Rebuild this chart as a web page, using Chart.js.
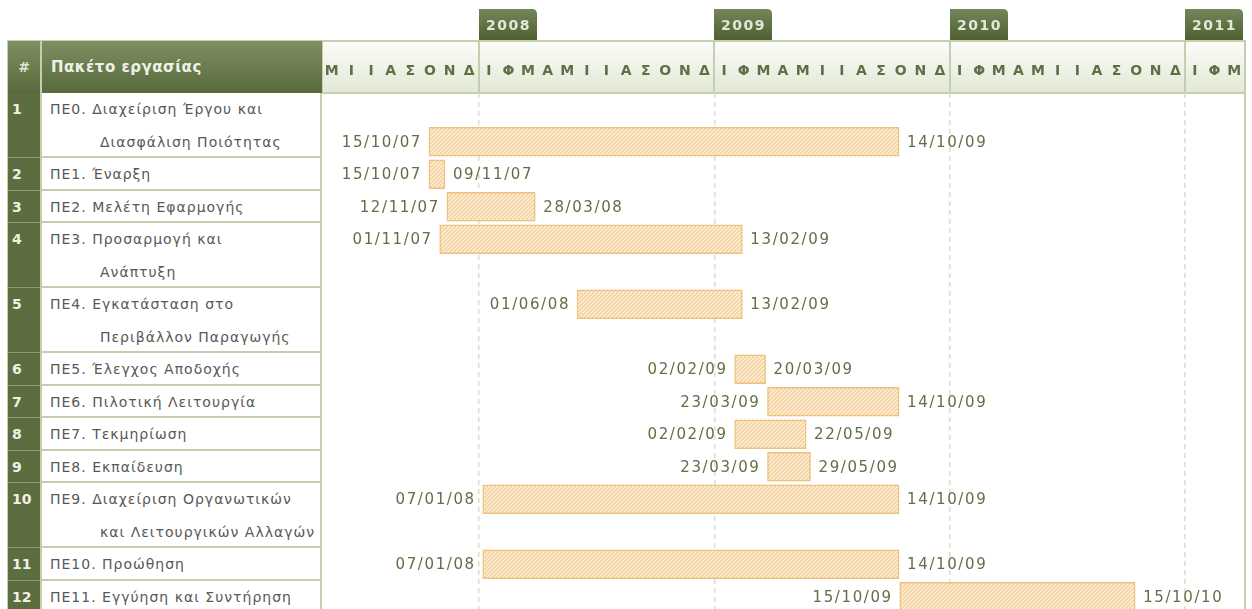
<!DOCTYPE html>
<html>
<head>
<meta charset="utf-8">
<script src="https://cdn.jsdelivr.net/npm/chart.js@4/dist/chart.umd.min.js"></script>
<style>
  html, body { margin: 0; padding: 0; background: #fff; overflow: hidden; width: 1252px; height: 609px; }
  #wrap { position: relative; width: 1252px; height: 609px; font-family: "DejaVu Sans", Verdana, sans-serif; }
  #hdr { position: absolute; left: 7px; top: 40px; width: 314px; height: 52px;
         background: linear-gradient(#7e9061, #586a3b); border: 1px solid #c5cfb0; border-right: none; }
  #hdr .hash { position: absolute; left: 0; top: 0; width: 32px; height: 52px; line-height: 52px; text-align: center;
               color: #dfe5d2; font-weight: bold; font-size: 14px; border-right: 2px solid #c5cfb0; }
  #hdr .title { position: absolute; left: 43px; top: 0; height: 52px; line-height: 52px; color: #eef1e6;
                font-weight: bold; font-size: 15px; letter-spacing: 0.5px; }
  .num { position: absolute; left: 7px; width: 33px; background: #5c6e3f; color: #eef0e6; font-weight: bold;
         font-size: 14px; box-sizing: border-box; padding-left: 4px; border-bottom: 1px solid #8c9a73; border-left: 1px solid #c5cfb0; }
  .lbl { position: absolute; left: 40px; width: 282px; background: #fff; color: #585858; font-size: 14px;
         letter-spacing: 1px; box-sizing: border-box; border-left: 2px solid #c5cfb0; border-right: 2px solid #c5cfb0;
         border-bottom: 2px solid #c5cfb0; }
  .lbl div { white-space: nowrap; }
  canvas { position: absolute; left: 322px; top: 0; }
</style>
</head>
<body>
<div id="wrap">
  <div id="hdr"><div class="hash">#</div><div class="title">Πακέτο εργασίας</div></div>
  <canvas id="gantt" width="930" height="620" style="width:930px;height:620px"></canvas>
</div>
<script>
// Work packages (second line of a label after \n)
const taskLabels = [
  'ΠΕ0. Διαχείριση Έργου και\nΔιασφάλιση Ποιότητας',
  'ΠΕ1. Έναρξη',
  'ΠΕ2. Μελέτη Εφαρμογής',
  'ΠΕ3. Προσαρμογή και\nΑνάπτυξη',
  'ΠΕ4. Εγκατάσταση στο\nΠεριβάλλον Παραγωγής',
  'ΠΕ5. Έλεγχος Αποδοχής',
  'ΠΕ6. Πιλοτική Λειτουργία',
  'ΠΕ7. Τεκμηρίωση',
  'ΠΕ8. Εκπαίδευση',
  'ΠΕ9. Διαχείριση Οργανωτικών\nκαι Λειτουργικών Αλλαγών',
  'ΠΕ10. Προώθηση',
  'ΠΕ11. Εγγύηση και Συντήρηση',
];
const startDates = ['15/10/07','15/10/07','12/11/07','01/11/07','01/06/08','02/02/09','23/03/09','02/02/09','23/03/09','07/01/08','07/01/08','15/10/09'];
const endDates   = ['14/10/09','09/11/07','28/03/08','13/02/09','13/02/09','20/03/09','14/10/09','22/05/09','29/05/09','14/10/09','14/10/09','15/10/10'];

// Timeline: May 2007 .. March 2011
const axisStartYear = 2007;
const axisStartMonth = 5;
const axisMonths = 47;
const monthInitials = ['Ι','Φ','Μ','Α','Μ','Ι','Ι','Α','Σ','Ο','Ν','Δ'];
const yearTabs = [2008, 2009, 2010, 2011];

const LINE_PX = 32.5;
const olive = '#5f7047';

// dd/mm/yy -> months since axis start
function toMonths(s) {
  const [d, m, y] = s.split('/').map(Number);
  const year = 2000 + y;
  const dim = new Date(year, m, 0).getDate();
  return (year - axisStartYear) * 12 + (m - axisStartMonth) + (d - 1) / dim;
}
function yearToMonths(y) { return (y - axisStartYear) * 12 + (1 - axisStartMonth); }

// line layout of the table rows
const lineCounts = taskLabels.map(l => l.split('\n').length);
const rowStart = [];
lineCounts.reduce((acc, n, i) => { rowStart[i] = acc; return acc + n; }, 0);
const totalLines = lineCounts.reduce((a, b) => a + b, 0);
const barLine = rowStart.map((s, i) => i === 0 ? s + lineCounts[i] - 0.5 : s + 0.5);

// left table
const wrap = document.getElementById('wrap');
taskLabels.forEach((label, i) => {
  const top = 93 + rowStart[i] * LINE_PX;
  const h = lineCounts[i] * LINE_PX;
  const num = document.createElement('div');
  num.className = 'num';
  num.style.top = top + 'px';
  num.style.height = h + 'px';
  num.style.lineHeight = LINE_PX + 'px';
  num.textContent = i + 1;
  wrap.appendChild(num);
  const cell = document.createElement('div');
  cell.className = 'lbl';
  cell.style.top = top + 'px';
  cell.style.height = h + 'px';
  label.split('\n').forEach((line, k) => {
    const d = document.createElement('div');
    d.style.height = LINE_PX + 'px';
    d.style.lineHeight = LINE_PX + 'px';
    d.style.paddingLeft = (k === 0 ? 8 : 58) + 'px';
    d.textContent = line;
    cell.appendChild(d);
  });
  wrap.appendChild(cell);
});

function makeHatch(ctx) {
  const c = document.createElement('canvas');
  c.width = 4; c.height = 4;
  const g = c.getContext('2d');
  g.fillStyle = '#fdf1de';
  g.fillRect(0, 0, 4, 4);
  g.strokeStyle = '#f3cd95';
  g.lineWidth = 1.3;
  g.beginPath();
  g.moveTo(-1, 5); g.lineTo(5, -1);
  g.moveTo(-3, 3); g.lineTo(3, -3);
  g.moveTo(1, 7); g.lineTo(7, 1);
  g.stroke();
  return ctx.createPattern(c, 'repeat');
}

const headerBand = {
  id: 'headerBand',
  beforeDraw(chart) {
    const { ctx, chartArea } = chart;
    const top = chartArea.top - 53;
    const xs = chart.scales.x2;
    ctx.save();
    const grad = ctx.createLinearGradient(0, top, 0, chartArea.top);
    grad.addColorStop(0, '#fcfdf9');
    grad.addColorStop(1, '#e3e8d5');
    ctx.fillStyle = grad;
    ctx.fillRect(chartArea.left, top, chartArea.right - chartArea.left, 53);
    ctx.strokeStyle = '#c5cfb0';
    ctx.lineWidth = 2;
    ctx.strokeRect(chartArea.left, top + 1, chartArea.right - chartArea.left + 1, 52);
    // right border of the grid
    ctx.beginPath();
    ctx.moveTo(chartArea.right + 1, top);
    ctx.lineTo(chartArea.right + 1, chart.height);
    ctx.stroke();
    // year separators and tabs
    yearTabs.forEach(y => {
      const px = Math.round(xs.getPixelForValue(yearToMonths(y)));
      ctx.beginPath();
      ctx.moveTo(px, top);
      ctx.lineTo(px, chartArea.top);
      ctx.stroke();
      const tg = ctx.createLinearGradient(0, 9, 0, top);
      tg.addColorStop(0, '#74875a');
      tg.addColorStop(1, '#4e6032');
      ctx.fillStyle = tg;
      ctx.beginPath();
      ctx.moveTo(px, top);
      ctx.lineTo(px, 9);
      ctx.lineTo(px + 53, 9);
      ctx.quadraticCurveTo(px + 58, 9, px + 58, 14);
      ctx.lineTo(px + 58, top);
      ctx.closePath();
      ctx.fill();
      ctx.fillStyle = '#e2e8d5';
      ctx.font = 'bold 14px "DejaVu Sans"';
      ctx.letterSpacing = '1.5px';
      ctx.textAlign = 'left';
      ctx.textBaseline = 'middle';
      ctx.fillText(String(y), px + 7, 26);
    });
    ctx.restore();
  }
};

const dateLabels = {
  id: 'dateLabels',
  afterDatasetsDraw(chart) {
    const { ctx } = chart;
    const meta = chart.getDatasetMeta(0);
    ctx.save();
    ctx.font = '15px "DejaVu Sans"';
    ctx.letterSpacing = '1.6px';
    ctx.fillStyle = olive;
    ctx.textBaseline = 'middle';
    meta.data.forEach((bar, i) => {
      const left = Math.min(bar.x, bar.base);
      const right = Math.max(bar.x, bar.base);
      ctx.textAlign = 'right';
      ctx.fillText(startDates[i], left - 7, bar.y + 1);
      ctx.textAlign = 'left';
      ctx.fillText(endDates[i], right + 8, bar.y + 1);
    });
    ctx.restore();
  }
};

function noSidePadding(axis) {
  axis.paddingLeft = 0;
  axis.paddingRight = 0;
}

const ctx = document.getElementById('gantt').getContext('2d');
new Chart(ctx, {
  type: 'bar',
  data: {
    datasets: [{
      data: taskLabels.map((_, i) => ({ x: [toMonths(startDates[i]), toMonths(endDates[i])], y: barLine[i] })),
      backgroundColor: makeHatch(ctx),
      borderColor: '#eec27c',
      borderWidth: 1.5,
      borderSkipped: false,
      barThickness: 29,
    }]
  },
  plugins: [headerBand, dateLabels],
  options: {
    indexAxis: 'y',
    responsive: false,
    animation: false,
    devicePixelRatio: 1,
    layout: { padding: { left: 0, right: 8, top: 40, bottom: 7 } },
    plugins: { legend: { display: false }, tooltip: { enabled: false } },
    scales: {
      x: {
        type: 'linear',
        position: 'top',
        offset: false,
        min: 0,
        max: axisMonths,
        grid: { display: false },
        border: { display: false },
        afterBuildTicks(axis) {
          axis.ticks = Array.from({ length: axisMonths }, (_, m) => ({ value: m + 0.5 }));
        },
        afterFit(axis) { axis.height = 53; noSidePadding(axis); },
        ticks: {
          autoSkip: false,
          maxRotation: 0,
          padding: 5,
          color: olive,
          font: { family: '"DejaVu Sans"', size: 14, weight: 'bold' },
          callback(value) {
            return monthInitials[(axisStartMonth - 1 + Math.floor(value)) % 12];
          }
        }
      },
      x2: {
        type: 'linear',
        position: 'top',
        offset: false,
        min: 0,
        max: axisMonths,
        afterBuildTicks(axis) {
          axis.ticks = yearTabs.map(y => ({ value: yearToMonths(y) }));
        },
        afterFit(axis) { axis.height = 0; noSidePadding(axis); },
        ticks: { display: false },
        grid: { color: '#d9dfcd', lineWidth: 1.5, drawTicks: false },
        border: { display: false, dash: [5, 4] }
      },
      y: {
        type: 'linear',
        reverse: true,
        offset: false,
        min: 0,
        max: totalLines,
        display: false
      }
    }
  }
});
</script>
</body>
</html>
